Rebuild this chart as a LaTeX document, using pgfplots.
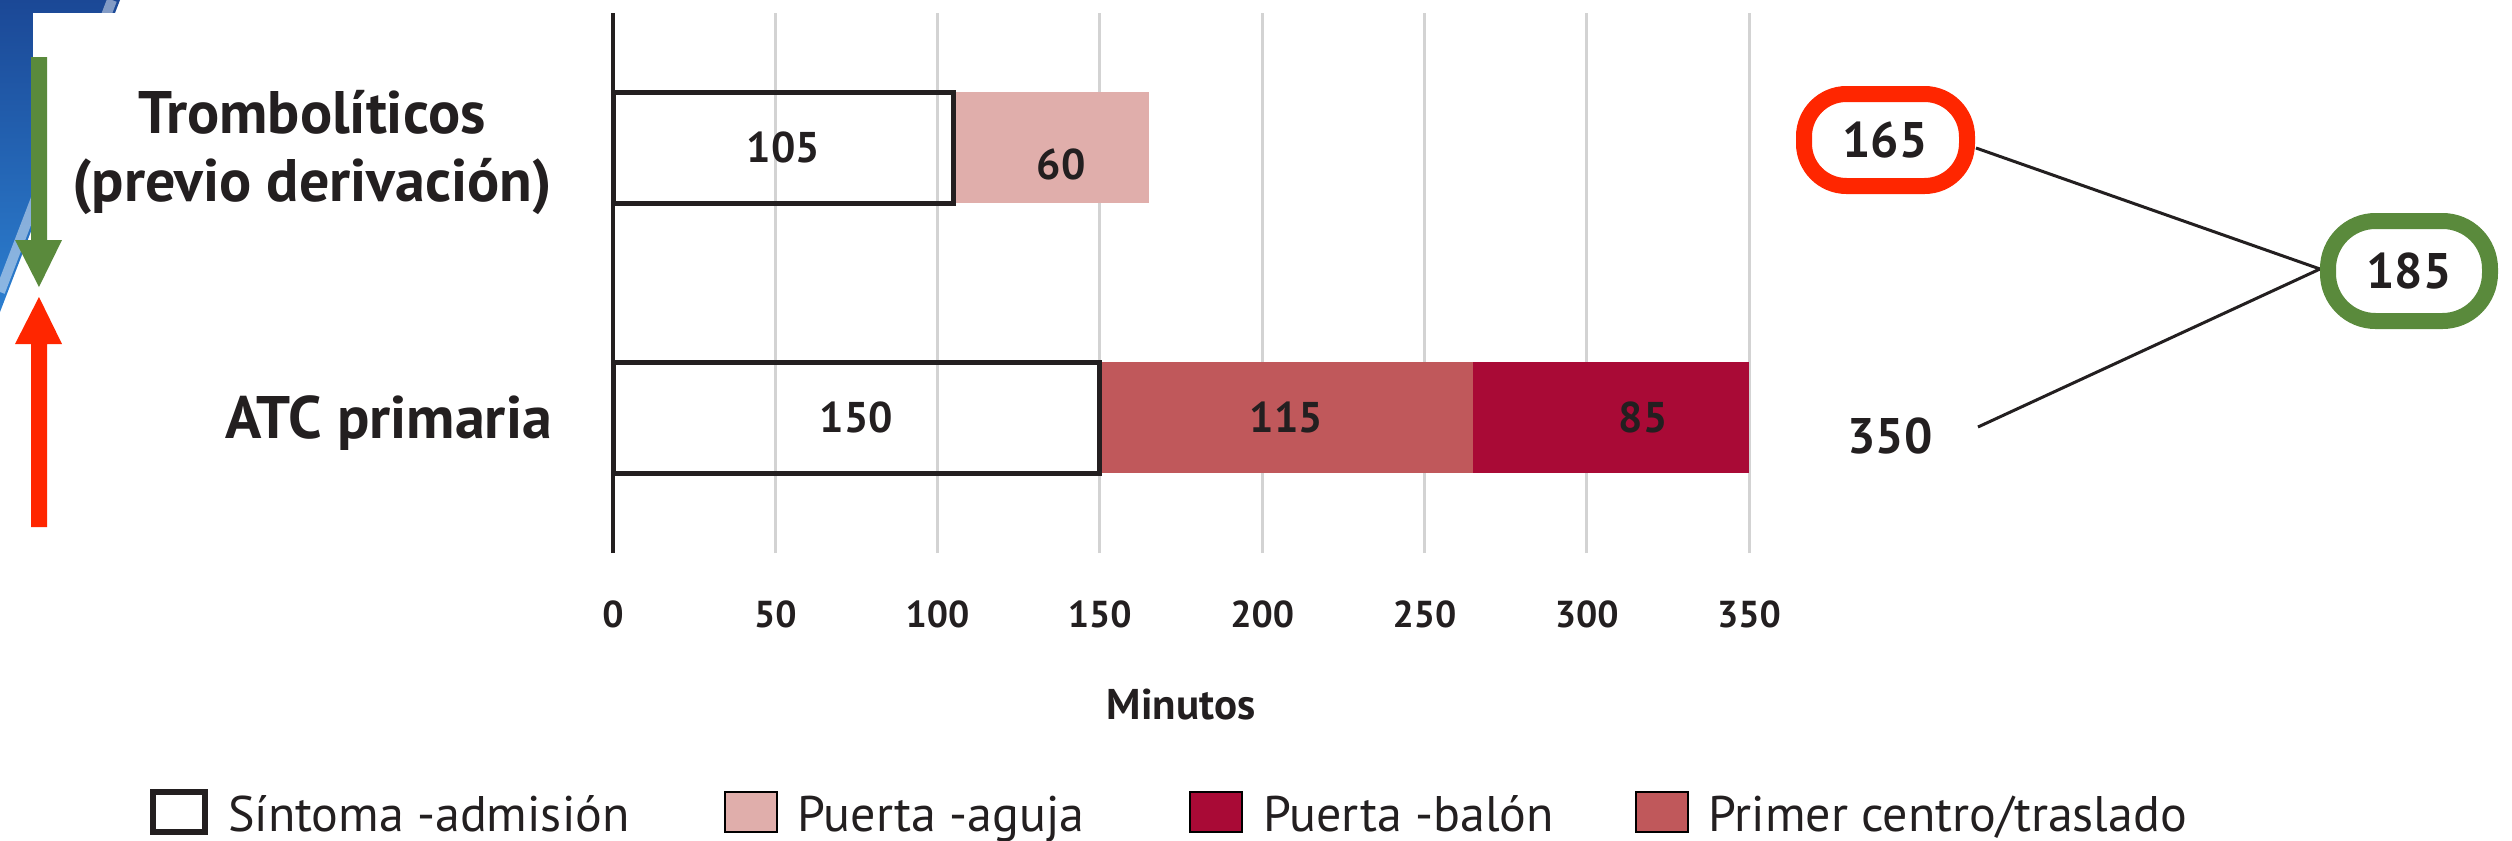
\documentclass[border=0pt]{standalone}
\usepackage{pgfplots}
\pgfplotsset{compat=1.18}
\usepackage{fontspec}
\setmainfont{PT Sans}

\definecolor{ink}{HTML}{231F20}
\definecolor{aguja}{HTML}{E0AEAB}
\definecolor{traslado}{HTML}{C0585B}
\definecolor{balon}{HTML}{A90A36}
\definecolor{gridgray}{HTML}{D3D3D3}
\definecolor{okgreen}{HTML}{5A8A3C}
\definecolor{alertred}{HTML}{FF2600}
\definecolor{slideblueA}{HTML}{1B4896}
\definecolor{slideblueB}{HTML}{2C7FD0}

\newcommand\catfont{\bfseries\fontsize{12}{13.6}\selectfont}
\newcommand\tickfont{\bfseries\fontsize{7.5}{9}\selectfont}
\newcommand\barfont{\bfseries\fontsize{8.6}{10}\selectfont}
\newcommand\sumfont{\bfseries\fontsize{10}{12}\selectfont}

\begin{document}
\begin{tikzpicture}[x=0.2pt, y=-0.2pt, every node/.style={text=ink}]
\path[use as bounding box] (0,0) rectangle (2512,841);

% corner of the slide background
\shade[top color=slideblueA, bottom color=slideblueB] (0,0) -- (120,0) -- (0,312) -- cycle;
\draw[white, opacity=0.45, line width=2pt] (112,0) -- (0,292);
\fill[white] (33,12.7) rectangle (2512,841);

% arrows on the left margin
\fill[okgreen] (31,57) -- (47,57) -- (47,240) -- (62,240) -- (39,287) -- (15,240) -- (31,240) -- cycle;
\fill[alertred] (31,527) -- (47,527) -- (47,344) -- (62,344) -- (39,297) -- (15,344) -- (31,344) -- cycle;

\begin{axis}[
  at={(122.6pt,-110.6pt)}, anchor=south west,
  scale only axis, width=227.2pt, height=108.1pt,
  xbar stacked, bar width=22.2pt,
  xmin=0, xmax=350, ymin=-0.5, ymax=1.5,
  axis line style={draw=none},
  major tick length=0pt,
  xtick={0,50,...,350},
  xmajorgrids, grid style={gridgray, line width=0.6pt},
  extra x ticks={0}, extra x tick labels={},
  extra x tick style={grid style={ink, line width=0.8pt}},
  /pgf/number format/assume math mode=true,
  xticklabel style={font=\tickfont, anchor=center, inner sep=0pt, yshift=-12.2pt},
  ytick={0,1},
  yticklabels={ATC primaria, {Trombolíticos\\(previo derivación)}},
  yticklabel style={font=\catfont, align=center, inner sep=0pt, anchor=east, xshift=-12pt, yshift=-1pt},
  xlabel={Minutos},
  xlabel style={font=\bfseries\fontsize{8.6}{10}\selectfont, at={(axis description cs:0.5,-0.281)}, anchor=center},
  legend columns=4,
  legend image code/.code={\draw[#1] (0pt,0pt) rectangle (10.4pt,8pt);},
  legend style={
    at={(-0.4075,-0.483)}, anchor=west,
    draw=none, fill=none, inner sep=0pt, outer sep=0pt,
    font=\fontsize{10}{12}\selectfont,
    nodes={inner sep=0pt, text=ink},
    cells={anchor=base west},
    /tikz/every odd column/.append style={column sep=4pt},
    /tikz/every even column/.append style={column sep=0pt},
  },
]
% time from symptom onset to admission (outlined, no fill)
\addplot[fill=none, draw=ink, line width=1pt, forget plot] coordinates {(150,0) (105,1)};
% door to needle
\addplot[fill=aguja, draw=none, forget plot] coordinates {(0,0) (60,1)};
% first centre / transfer
\addplot[fill=traslado, draw=none, forget plot] coordinates {(115,0) (0,1)};
% door to balloon
\addplot[fill=balon, draw=none, forget plot] coordinates {(85,0) (0,1)};

\addlegendimage{draw=ink, line width=1.2pt, fill=none}
\addlegendentry{\makebox[99.1pt][l]{Síntoma -admisión}}
\addlegendimage{draw=none, fill=aguja}
\addlegendentry{\makebox[78.3pt][l]{Puerta -aguja}}
\addlegendimage{draw=none, fill=balon}
\addlegendentry{\makebox[74.3pt][l]{Puerta -balón}}
\addlegendimage{draw=none, fill=traslado}
\addlegendentry{Primer centro/traslado}

% middle of each segment
\coordinate (s105) at (axis cs:52.5,1);
\coordinate (s60)  at (axis cs:135,1);
\coordinate (s150) at (axis cs:75,0);
\coordinate (s115) at (axis cs:207.5,0);
\coordinate (s85)  at (axis cs:307.5,0);
\end{axis}

% segment values, written over the bars
\node[font=\barfont] at (s105) {105};
\node[font=\barfont, xshift=2pt, yshift=-3.4pt] at (s60) {60};
\node[font=\barfont] at (s150) {150};
\node[font=\barfont] at (s115) {115};
\node[font=\barfont, xshift=6.4pt] at (s85) {85};

% totals and their difference
\draw[ink, line width=0.6pt] (1976,148) -- (2320,269) -- (1978,427);
\draw[alertred, line width=3.2pt, rounded corners=8.5pt] (1804,94) rectangle (1967,186);
\node[font=\sumfont] at (1885,140) {165};
\draw[okgreen, line width=3.2pt, rounded corners=9.5pt] (2328,221) rectangle (2490,321);
\node[font=\sumfont] at (2409,271) {185};
\node[font=\sumfont] at (1890,436) {350};
\end{tikzpicture}
\end{document}
